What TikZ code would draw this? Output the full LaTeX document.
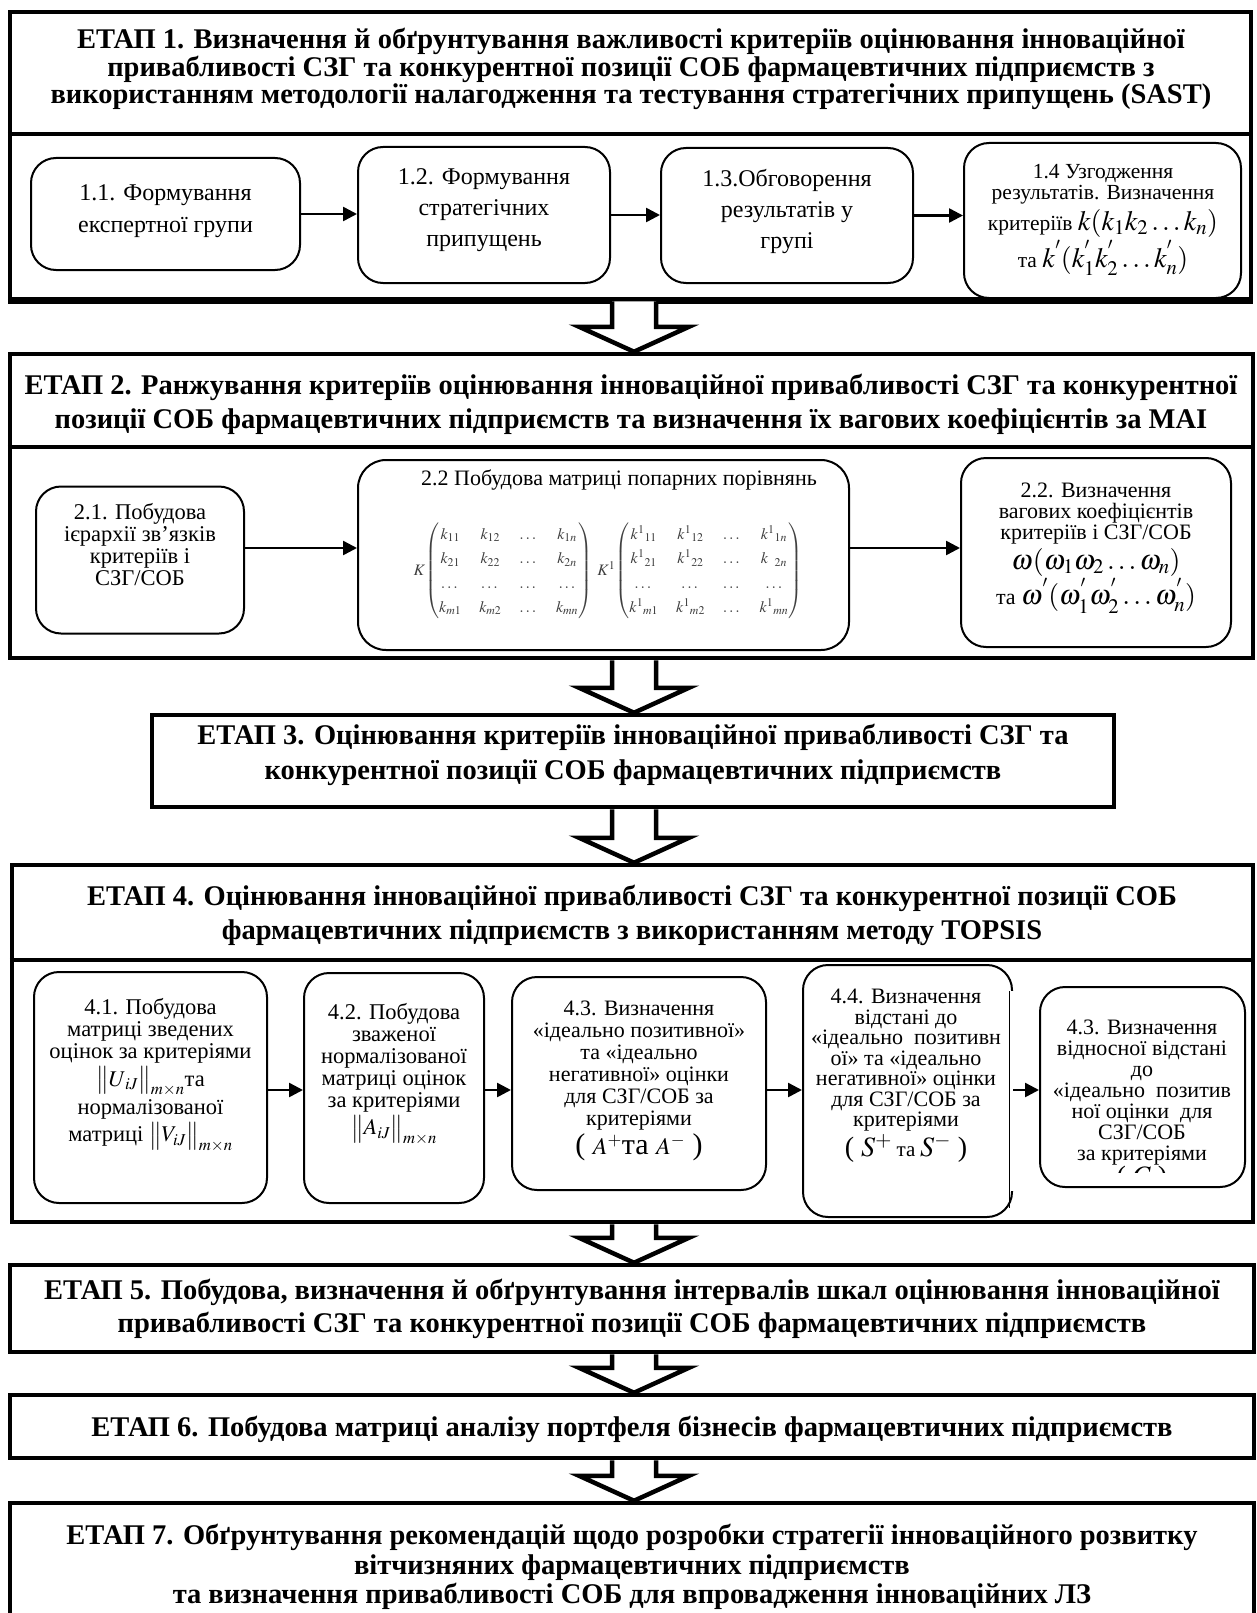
\documentclass[tikz,border=0pt]{standalone}
\usepackage{amsmath}
\usepackage{mathptmx}
\usepackage{fontspec}
\setmainfont{Liberation Serif}
\usetikzlibrary{arrows.meta,calc}
\newcommand{\mth}[2]{{\fontsize{#1}{#1}\selectfont #2}}
\newcommand{\stagearrow}[2]{%
  \draw[bigarrow] let \p1=(#1.south -| ax), \p2=(#2.north -| ax) in
   (\x1-22pt,\y1) -- (\x1-22pt,\y2+25pt) -- (\x1-55pt,\y2+25pt) -- (\x2,\y2)
   -- (\x1+55pt,\y2+25pt) -- (\x1+22pt,\y2+25pt) -- (\x1+22pt,\y1);}
\tikzset{
  stagebox/.style={draw, line width=4.5pt, fill=white, inner sep=0pt},
  divline/.style={line width=4.5pt},
  subbox/.style={draw, line width=2pt, rounded corners=25pt, inner sep=0pt, fill=white},
  lbl/.style={align=center, inner sep=0pt},
  ttl/.style={lbl, font=\bfseries\fontsize{28.5}{#1}\selectfont},
  sbt/.style n args={2}{lbl, font=\fontsize{#1}{#2}\selectfont},
  conn/.style={line width=2.5pt, -{Triangle[length=14pt,width=14pt]}},
  bigarrow/.style={line width=4.5pt, fill=white, line join=miter},
  mtx/.style={lbl, text=black!75, font=\fontsize{16}{18}\selectfont},
}
\begin{document}
\begin{tikzpicture}[x=1pt,y=-1pt]
\path[use as bounding box] (0,0) rectangle (1256,1613);
\clip (0,0) rectangle (1256,1613);
\coordinate (ax) at (634,0);
\coordinate (d1) at (0,134);
\coordinate (d2) at (0,447);
\coordinate (d4) at (0,960);
\coordinate (r2) at (0,548);
\coordinate (r4) at (0,1090);
\coordinate (c45) at (0,1172);

% ---------- stage boxes
\node[stagebox, minimum width=1241pt, minimum height=287pt] (s1) at (630.5,155.5) {};
\node[stagebox, minimum width=1243pt, minimum height=304pt] (s2) at (631.5,506) {};
\node[stagebox, minimum width=962pt, minimum height=92pt] (s3) at (633,761) {};
\node[stagebox, minimum width=1241pt, minimum height=357pt] (s4) at (632.5,1043.5) {};
\node[stagebox, minimum width=1244pt, minimum height=87pt] (s5) at (632,1308.5) {};
\node[stagebox, minimum width=1244pt, minimum height=63pt] (s6) at (632,1426.5) {};
\node[stagebox, minimum width=1244pt, minimum height=197pt] (s7) at (632,1601.5) {};
\draw[divline] (s1.west |- d1) -- (s1.east |- d1);
\draw[divline] (s2.west |- d2) -- (s2.east |- d2);
\draw[divline] (s4.west |- d4) -- (s4.east |- d4);

% ---------- titles
\node[ttl=27.5] (h1) at (631,69) {ЕТАП 1. Визначення й обґрунтування важливості критеріїв оцінювання інноваційної\\
привабливості СЗГ та конкурентної позиції СОБ фармацевтичних підприємств з\\
використанням методології налагодження та тестування стратегічних припущень (SAST)};
\node[ttl=34] (h2) at (631,404) {ЕТАП 2. Ранжування критеріїв оцінювання інноваційної привабливості СЗГ та конкурентної\\
позиції СОБ фармацевтичних підприємств та визначення їх вагових коефіцієнтів за МАІ};
\node[ttl=35] (h3) at (633,755) {ЕТАП 3. Оцінювання критеріїв інноваційної привабливості СЗГ та\\
конкурентної позиції СОБ фармацевтичних підприємств};
\node[ttl=34] (h4) at (632,915) {ЕТАП 4. Оцінювання інноваційної привабливості СЗГ та конкурентної позиції СОБ\\
фармацевтичних підприємств з використанням методу TOPSIS};
\node[ttl=33] (h5) at (632,1309) {ЕТАП 5. Побудова, визначення й обґрунтування інтервалів шкал оцінювання інноваційної\\
привабливості СЗГ та конкурентної позиції СОБ фармацевтичних підприємств};
\node[ttl=30] (h6) at (632,1429) {ЕТАП 6. Побудова матриці аналізу портфеля бізнесів фармацевтичних підприємств};
\node[ttl=29.5] (h7) at (632,1567) {ЕТАП 7. Обґрунтування рекомендацій щодо розробки стратегії інноваційного розвитку\\
вітчизняних фармацевтичних підприємств\\
та визначення привабливості СОБ для впровадження інноваційних ЛЗ};

% ---------- stage 1 sub-boxes
\node[subbox, minimum width=269pt, minimum height=112pt] (b11) at (165.5,214) {};
\node[subbox, minimum width=252pt, minimum height=136pt] (b12) at (484,215) {};
\node[subbox, minimum width=252pt, minimum height=135pt] (b13) at (787,215.5) {};
\node[subbox, minimum width=277pt, minimum height=155pt] (b14) at (1102.5,220.5) {};
\node[sbt={24}{32}] (t11) at (165.5,211) {1.1. Формування\\експертної групи};
\node[sbt={24}{31}] (t12) at (484,210) {1.2. Формування\\стратегічних\\припущень};
\node[sbt={24}{31}] (t13) at (787,211) {1.3.Обговорення\\результатів у\\групі};
\node[sbt={21.5}{21}] (t14) at (1103,220) {1.4 Узгодження\\результатів. Визначення\\[4pt]
критеріїв \mth{28}{$k(k_1k_2\ldots k_n)$}\\[2pt]
та \mth{28}{$k^{'}(k^{'}_1k^{'}_2\ldots k^{'}_n)$}};
\draw[divline] (s1.south west) -- (s1.south east);
\draw[conn] (b11.east) -- (b12.west |- b11.east);
\draw[conn] (b12.east) -- (b13.west |- b12.east);
\draw[conn] (b13.east) -- (b14.west |- b13.east);

% ---------- stage 2 sub-boxes
\node[subbox, minimum width=208pt, minimum height=147pt] (b21) at (140,560) {};
\node[subbox, minimum width=491pt, minimum height=190pt, rounded corners=28pt] (b22) at (603.5,555) {};
\node[subbox, minimum width=270pt, minimum height=189pt] (b23) at (1096,552.5) {};
\node[sbt={22.5}{22}] (t21) at (140,545) {2.1. Побудова\\ієрархії зв’язків\\критеріїв і\\СЗГ/СОБ};
\node[sbt={22}{22}] (t22) at (619,480) {2.2 Побудова матриці попарних порівнянь};
\node[mtx] (m22) at (608,571) {\renewcommand{\arraystretch}{1.35}\setlength{\arraycolsep}{9pt}%
$K\!\begin{pmatrix} k_{11} & k_{12} & \dots & k_{1n}\\ k_{21} & k_{22} & \dots & k_{2n}\\ \dots & \dots & \dots & \dots\\ k_{m1} & k_{m2} & \dots & k_{mn}\end{pmatrix}\;
K^{1}\!\begin{pmatrix} k^{1}{}_{11} & k^{1}{}_{12} & \dots & k^{1}{}_{1n}\\ k^{1}{}_{21} & k^{1}{}_{22} & \dots & k^{\phantom{1}}{}_{2n}\\ \dots & \dots & \dots & \dots\\ k^{1}{}_{m1} & k^{1}{}_{m2} & \dots & k^{1}{}_{mn}\end{pmatrix}$};
\node[sbt={22}{21}] (t23) at (1096,548) {2.2. Визначення\\вагових коефіцієнтів\\критеріїв і СЗГ/СОБ\\[3pt]
\mth{28}{$\omega(\omega_1\omega_2\ldots\omega_n)$}\\[1pt]
та \mth{28}{$\omega^{'}(\omega^{'}_1\omega^{'}_2\ldots\omega^{'}_n)$}};
\draw[conn] (b21.east |- r2) -- (b22.west |- r2);
\draw[conn] (b22.east |- r2) -- (b23.west |- r2);

% ---------- stage 4 sub-boxes
\node[subbox, minimum width=233pt, minimum height=231pt] (b41) at (150.5,1087.5) {};
\node[subbox, minimum width=180pt, minimum height=230pt] (b42) at (394,1088) {};
\node[subbox, minimum width=254pt, minimum height=213pt] (b43) at (639,1083.5) {};
\node[subbox, minimum width=209pt, minimum height=252pt] (b44) at (907.5,1091) {};
\node[subbox, minimum width=205pt, minimum height=200pt] (b45) at (1142.5,1087) {};
\fill[white] ($(b44.north east)+(-6,27)$) rectangle ($(b44.south east)+(3,-27)$);
\draw[line width=0.8pt] ($(b44.north east)+(-4,27)$) -- ($(b44.south east)+(-4,-10)$);
\node[sbt={22.5}{22}] (t41) at (150.5,1075) {4.1. Побудова\\матриці зведених\\оцінок за критеріями\\[3pt]
$\big\|U_{\,iJ}\big\|_{m\times n}$та\\[2pt]нормалізованої\\[3pt]матриці $\big\|V_{iJ}\big\|_{m\times n}$};
\node[sbt={22.5}{22}] (t42) at (394,1074) {4.2. Побудова\\зваженої\\нормалізованої\\матриці оцінок\\за критеріями\\[3pt]
$\big\|A_{iJ}\big\|_{m\times n}$};
\node[sbt={22}{22}] (t43) at (639,1081) {4.3. Визначення\\«ідеально позитивної»\\та «ідеально\\негативної» оцінки\\для СЗГ/СОБ за\\критеріями\\[2pt]
\mth{30}{( \mth{24}{$A^{+}$}та \mth{24}{$A^{-}$} )}};
\node[sbt={22}{20.5}] (t44) at (906,1076) {4.4. Визначення\\відстані до\\«ідеально\ \ позитивн\\ої» та «ідеально\\негативної» оцінки\\для СЗГ/СОБ за\\критеріями\\[2pt]
\mth{28}{( $S^{+}$\,\mth{21}{та}\,$S^{-}$ )}};
\begin{scope}
\clip (b45.north west) rectangle (b45.east |- c45);
\node[sbt={22}{21}] (t45) at (1142,1106) {4.3. Визначення\\відносної відстані\\до\\«ідеально\ \ позитив\\ної оцінки\ \ для\\СЗГ/СОБ\\за критеріями\\
\mth{28}{( $C$ )}};
\end{scope}
\draw[conn] (b41.east |- r4) -- (b42.west |- r4);
\draw[conn] (b42.east |- r4) -- (b43.west |- r4);
\draw[conn] (b43.east |- r4) -- (b44.west |- r4);
\draw[conn] (b44.east |- r4) -- (b45.west |- r4);

% ---------- stage arrows
\stagearrow{s1}{s2}
\stagearrow{s2}{s3}
\stagearrow{s3}{s4}
\stagearrow{s4}{s5}
\stagearrow{s5}{s6}
\stagearrow{s6}{s7}
\end{tikzpicture}
\end{document}
